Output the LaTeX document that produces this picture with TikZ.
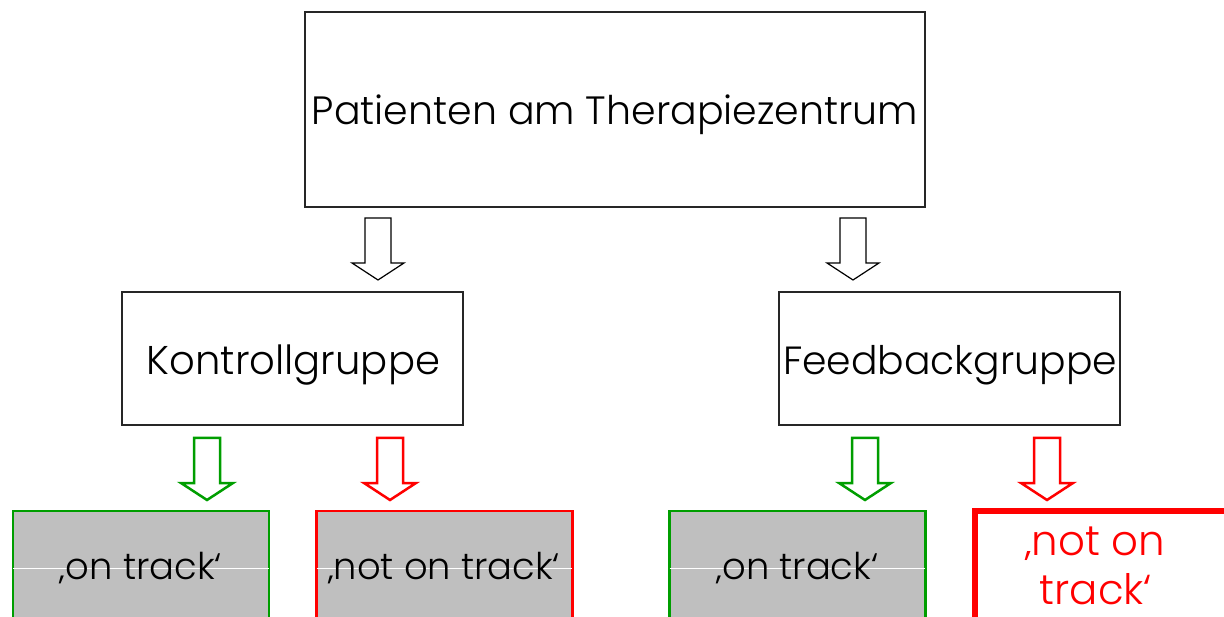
\documentclass[tikz,border=0pt]{standalone}
\usepackage{fontspec}
\setmainfont{Poppins Light}
\definecolor{okgreen}{RGB}{0,158,0}
\definecolor{nogred}{RGB}{255,0,0}
\definecolor{boxgray}{RGB}{191,191,191}
\newcommand\fitw[2]{\resizebox{#1pt}{!}{#2}}
\newlength\firstw
\newcommand\blkarrow[2]{%
  \draw[#2] ([shift={(-13,0)}]#1) -- ([shift={(13,0)}]#1) -- ([shift={(13,45)}]#1)
   -- ([shift={(26,45)}]#1) -- ([shift={(0,62)}]#1) -- ([shift={(-26,45)}]#1)
   -- ([shift={(-13,45)}]#1) -- cycle;}
\begin{document}
\settowidth\firstw{‚not on}%
\pgfmathsetmacro\redscale{140/\firstw}%
\begin{tikzpicture}[x=1pt,y=-1pt,
  box/.style={draw=black!85,line width=1.2pt,fill=white,inner sep=0pt},
  okbox/.style={draw=okgreen,line width=2.5pt,fill=boxgray,inner sep=0pt,minimum width=256pt,minimum height=200pt},
  nobox/.style={draw=nogred,line width=2.5pt,fill=boxgray,inner sep=0pt,minimum width=256pt,minimum height=200pt},
  nothick/.style={draw=nogred,line width=6pt,fill=white,inner sep=0pt,minimum width=258pt,minimum height=200pt},
  lbl/.style={inner sep=0pt,anchor=base},
  blackarrow/.style={draw=black,line width=1.2pt,fill=white},
  greenarrow/.style={draw=okgreen,line width=2.5pt,fill=white},
  redarrow/.style={draw=nogred,line width=2.5pt,fill=white},
  splitline/.style={draw=white,line width=0.9pt}]
\useasboundingbox (0,0) rectangle (1224,617);
\clip (0,0) rectangle (1224,617);
% boxes
\node[box,minimum width=620pt,minimum height=195pt] (top) at (615,109.5) {};
\node[box,minimum width=341pt,minimum height=133pt] (kg) at (292.5,358.5) {};
\node[box,minimum width=341pt,minimum height=133pt] (fg) at (949.5,358.5) {};
\node[okbox] (kon) at (141,611) {};
\node[nobox] (knot) at (444.5,611) {};
\node[okbox] (fon) at (797.5,611) {};
\node[nothick] (fnot) at (1104,611) {};
% white split lines
\coordinate (wl) at (0,568);
\draw[splitline] ([xshift=1.3pt]kon.west |- wl) -- ([xshift=-1.3pt]kon.east |- wl);
\draw[splitline] ([xshift=1.3pt]knot.west |- wl) -- ([xshift=-1.3pt]knot.east |- wl);
\draw[splitline] ([xshift=1.3pt]fon.west |- wl) -- ([xshift=-1.3pt]fon.east |- wl);
% labels
\node[lbl] (tt) at (615,125) {\fitw{606}{Patienten am Therapiezentrum}};
\node[lbl] (kt) at (293.5,375) {\fitw{293}{Kontrollgruppe}};
\node[lbl] (ft) at (950,375) {\fitw{334}{Feedbackgruppe}};
\node[lbl] (kont) at (141,579) {\fitw{162}{‚on track‘}};
\node[lbl] (knott) at (444,579) {\fitw{232}{‚not on track‘}};
\node[lbl] (font) at (797.5,579) {\fitw{162}{‚on track‘}};
\node[lbl,text=nogred] (fnott1) at (1095,555) {\scalebox{\redscale}{‚not on}};
\node[lbl,text=nogred] (fnott2) at (1096,604) {\scalebox{\redscale}{track‘}};
% block arrows
\coordinate (a1) at (378,218);
\coordinate (a2) at (853,218);
\coordinate (a3) at (207,438);
\coordinate (a4) at (390,438);
\coordinate (a5) at (865,438);
\coordinate (a6) at (1047,438);
\blkarrow{a1}{blackarrow}
\blkarrow{a2}{blackarrow}
\blkarrow{a3}{greenarrow}
\blkarrow{a4}{redarrow}
\blkarrow{a5}{greenarrow}
\blkarrow{a6}{redarrow}
\end{tikzpicture}
\end{document}
